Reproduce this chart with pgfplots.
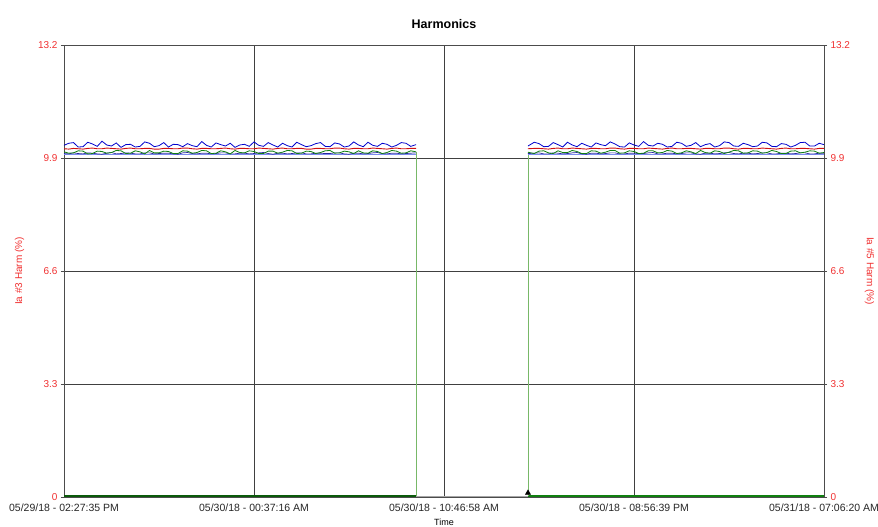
\documentclass[border=0pt]{standalone}
\usepackage{pgfplots}
\pgfplotsset{compat=1.18}
\usepackage{pgfplotstable}
\usepackage{fontspec}
\setmainfont{Liberation Sans}
\definecolor{sblue}{HTML}{0000CC}
\definecolor{sred}{HTML}{D01010}
\definecolor{sgreen}{HTML}{108010}
\definecolor{sdark}{HTML}{2828A0}
\definecolor{slight}{HTML}{7C8CF0}
\definecolor{lgreen}{HTML}{78B868}
\definecolor{tickred}{HTML}{F03030}

\pgfplotstableread{
x b r g d
0.00 10.27 10.17 10.08 10.03
0.025 10.33 10.16 10.04 10.02
0.05 10.35 10.18 10.05 10.05
0.075 10.22 10.17 10.11 10.03
0.10 10.23 10.16 10.10 10.02
0.125 10.36 10.18 10.02 10.05
0.15 10.31 10.19 10.03 10.04
0.175 10.24 10.17 10.10 10.02
0.20 10.39 10.17 10.09 10.01
0.225 10.28 10.19 10.04 10.04
0.25 10.25 10.18 10.06 10.06
0.275 10.34 10.17 10.12 10.02
0.30 10.21 10.16 10.11 10.03
0.325 10.29 10.18 10.03 10.05
0.35 10.30 10.19 10.04 10.04
0.375 10.22 10.17 10.11 10.02
0.40 10.24 10.17 10.08 10.02
0.425 10.37 10.18 10.02 10.05
0.45 10.33 10.18 10.12 10.05
0.475 10.23 10.16 10.05 10.02
0.50 10.26 10.16 10.05 10.03
0.525 10.35 10.18 10.10 10.04
0.55 10.22 10.18 10.09 10.04
0.575 10.30 10.17 10.03 10.02
0.60 10.29 10.17 10.03 10.01
0.625 10.23 10.19 10.11 10.05
0.65 10.32 10.19 10.10 10.06
0.675 10.26 10.17 10.04 10.03
0.70 10.23 10.16 10.06 10.02
0.725 10.38 10.18 10.12 10.04
0.75 10.27 10.18 10.11 10.04
0.775 10.22 10.17 10.03 10.02
0.80 10.34 10.17 10.04 10.03
0.825 10.29 10.18 10.11 10.05
0.85 10.25 10.19 10.08 10.05
0.875 10.33 10.17 10.02 10.02
0.90 10.21 10.16 10.12 10.02
0.925 10.28 10.18 10.06 10.04
0.95 10.30 10.18 10.05 10.04
0.975 10.24 10.17 10.11 10.02
1.00 10.37 10.17 10.09 10.03
1.025 10.27 10.19 10.03 10.05
1.05 10.24 10.18 10.03 10.06
1.075 10.35 10.17 10.10 10.03
1.10 10.28 10.16 10.10 10.01
1.125 10.22 10.18 10.04 10.04
1.15 10.33 10.19 10.07 10.04
1.175 10.26 10.17 10.12 10.02
1.20 10.22 10.17 10.11 10.03
1.225 10.36 10.18 10.03 10.05
1.25 10.29 10.18 10.04 10.05
1.275 10.23 10.16 10.10 10.02
1.30 10.26 10.16 10.09 10.02
1.325 10.32 10.18 10.03 10.04
1.35 10.35 10.18 10.06 10.04
1.375 10.24 10.17 10.11 10.03
1.40 10.23 10.17 10.12 10.03
1.425 10.34 10.19 10.04 10.05
1.45 10.31 10.19 10.05 10.05
1.475 10.22 10.17 10.10 10.02
1.50 10.25 10.16 10.08 10.01
1.525 10.37 10.18 10.03 10.04
1.55 10.28 10.18 10.11 10.04
1.575 10.23 10.17 10.05 10.02
1.60 10.36 10.17 10.04 10.03
1.625 10.27 10.19 10.11 10.05
1.65 10.24 10.18 10.09 10.06
1.675 10.33 10.17 10.03 10.03
1.70 10.30 10.16 10.06 10.02
1.725 10.22 10.18 10.12 10.04
1.75 10.27 10.19 10.10 10.04
1.775 10.35 10.17 10.04 10.02
1.80 10.33 10.17 10.05 10.03
1.825 10.24 10.18 10.11 10.04
1.853 10.29 10.18 10.08 10.05
}\segA

\pgfplotstableread{
x b r g d
2.442 10.25 10.17 10.07 10.03
2.475 10.36 10.18 10.03 10.04
2.50 10.32 10.18 10.10 10.05
2.525 10.23 10.17 10.11 10.02
2.55 10.24 10.16 10.05 10.02
2.575 10.35 10.18 10.03 10.05
2.60 10.29 10.19 10.11 10.04
2.625 10.22 10.17 10.06 10.02
2.65 10.36 10.17 10.06 10.03
2.675 10.28 10.19 10.12 10.05
2.70 10.23 10.18 10.09 10.06
2.725 10.33 10.17 10.03 10.02
2.75 10.27 10.16 10.03 10.01
2.775 10.22 10.18 10.11 10.04
2.80 10.34 10.18 10.10 10.04
2.825 10.29 10.17 10.04 10.02
2.85 10.26 10.17 10.07 10.03
2.875 10.37 10.19 10.12 10.05
2.90 10.31 10.19 10.12 10.05
2.925 10.23 10.17 10.04 10.02
2.95 10.22 10.16 10.05 10.02
2.975 10.34 10.18 10.11 10.04
3.00 10.28 10.18 10.09 10.04
3.025 10.24 10.17 10.03 10.03
3.05 10.38 10.17 10.04 10.03
3.075 10.27 10.19 10.11 10.05
3.10 10.25 10.18 10.11 10.06
3.125 10.33 10.17 10.05 10.02
3.15 10.30 10.16 10.06 10.02
3.175 10.22 10.18 10.12 10.04
3.20 10.24 10.19 10.10 10.04
3.225 10.36 10.17 10.03 10.02
3.25 10.33 10.17 10.05 10.03
3.275 10.24 10.18 10.11 10.05
3.30 10.27 10.18 10.08 10.05
3.325 10.35 10.17 10.03 10.02
3.35 10.23 10.16 10.12 10.01
3.375 10.29 10.18 10.06 10.04
3.40 10.32 10.18 10.04 10.04
3.425 10.22 10.17 10.11 10.02
3.45 10.26 10.17 10.09 10.03
3.475 10.37 10.19 10.03 10.05
3.50 10.35 10.19 10.07 10.06
3.525 10.25 10.17 10.12 10.03
3.55 10.24 10.16 10.11 10.02
3.575 10.33 10.18 10.04 10.04
3.60 10.29 10.18 10.05 10.04
3.625 10.23 10.17 10.11 10.02
3.65 10.25 10.17 10.10 10.03
3.675 10.36 10.19 10.04 10.05
3.70 10.34 10.18 10.06 10.05
3.725 10.24 10.17 10.12 10.02
3.75 10.23 10.16 10.09 10.02
3.775 10.32 10.18 10.03 10.04
3.80 10.30 10.19 10.03 10.04
3.825 10.22 10.17 10.10 10.02
3.85 10.27 10.17 10.11 10.03
3.875 10.35 10.18 10.05 10.05
3.90 10.36 10.18 10.07 10.05
3.925 10.25 10.17 10.11 10.02
3.95 10.25 10.16 10.10 10.02
3.975 10.33 10.18 10.04 10.04
4.00 10.29 10.18 10.06 10.04
}\segB

\begin{document}
\begin{tikzpicture}[x=1pt,y=1pt]
\useasboundingbox (-64,-30) rectangle (814,497);
\begin{axis}[
  at={(0,0)}, anchor=south west,
  scale only axis, width=760pt, height=452pt,
  xmin=0, xmax=4, ymin=0, ymax=13.2,
  xtick={0,1,2,3,4},
  xticklabels={05/29/18 - 02:27:35 PM,05/30/18 - 00:37:16 AM,05/30/18 - 10:46:58 AM,05/30/18 - 08:56:39 PM,05/31/18 - 07:06:20 AM},
  ytick={0,3.3,6.6,9.9,13.2},
  yticklabels={0,3.3,6.6,9.9,13.2},
  ytick pos=left, xtick pos=bottom,
  xtick style={draw=none},
  ytick style={black!70},
  tick align=outside, major tick length=3pt,
  grid=major, grid style={color=black!75, line width=0.6pt},
  axis line style={black!70, line width=0.7pt},
  xticklabel style={font=\fontsize{10.5}{11}\selectfont, color=black!85, yshift=0pt},
  yticklabel style={font=\fontsize{10}{11}\selectfont, color=tickred},
  title={\textbf{Harmonics}},
  title style={font=\fontsize{12.5}{14}\selectfont, yshift=7pt},
  xlabel={Time},
  xlabel style={font=\fontsize{9}{10}\selectfont, yshift=-1pt},
  ylabel={Ia \#3 Harm (\%)},
  ylabel style={font=\fontsize{10}{11}\selectfont, color=tickred, yshift=7pt},
  clip=false,
]
% bottom near-zero traces
\addplot[sgreen!70!black, line width=1.1pt] coordinates {(0,0.03) (1.853,0.03)};
\addplot[sgreen, line width=1.3pt] coordinates {(2.442,0.03) (4,0.03)};
\addplot[black!35, line width=0.5pt] coordinates {(1.853,0.02) (2.442,0.02)};
% gap drop of green trace
\addplot[lgreen, line width=0.7pt] coordinates {(1.853,10.08) (1.853,0.03)};
\addplot[lgreen, line width=0.7pt] coordinates {(2.442,0.03) (2.442,10.07)};
% flat light blue
\addplot[slight, line width=0.7pt] coordinates {(0,10.00) (1.853,10.00)};
\addplot[slight, line width=0.7pt] coordinates {(2.442,10.00) (4,10.00)};
% series
\addplot[sdark, line width=0.7pt] table[x=x,y=d] {\segA};
\addplot[sdark, line width=0.7pt] table[x=x,y=d] {\segB};
\addplot[sred, line width=0.9pt] table[x=x,y=r] {\segA};
\addplot[sred, line width=0.9pt] table[x=x,y=r] {\segB};
\addplot[sgreen, line width=0.8pt] table[x=x,y=g] {\segA};
\addplot[sgreen, line width=0.8pt] table[x=x,y=g] {\segB};
\addplot[sblue, line width=0.8pt] table[x=x,y=b] {\segA};
\addplot[sblue, line width=0.8pt] table[x=x,y=b] {\segB};
% small marker at restart
\addplot[only marks, mark=triangle*, mark size=3pt, black] coordinates {(2.442,0.12)};
\end{axis}
\begin{axis}[
  at={(0,0)}, anchor=south west,
  scale only axis, width=760pt, height=452pt,
  xmin=0, xmax=4, ymin=0, ymax=13.2,
  hide x axis,
  axis y line*=right,
  ytick={0,3.3,6.6,9.9,13.2},
  yticklabels={0,3.3,6.6,9.9,13.2},
  tick align=outside, major tick length=3pt,
  ytick style={black!70},
  axis line style={black!70, line width=0.7pt},
  yticklabel style={font=\fontsize{10}{11}\selectfont, color=tickred},
  ylabel={Ia \#5 Harm (\%)},
  ylabel style={font=\fontsize{10}{11}\selectfont, color=tickred, rotate=180, yshift=8pt},
]
\addplot[draw=none] coordinates {(0,0)};
\end{axis}
\end{tikzpicture}
\end{document}
